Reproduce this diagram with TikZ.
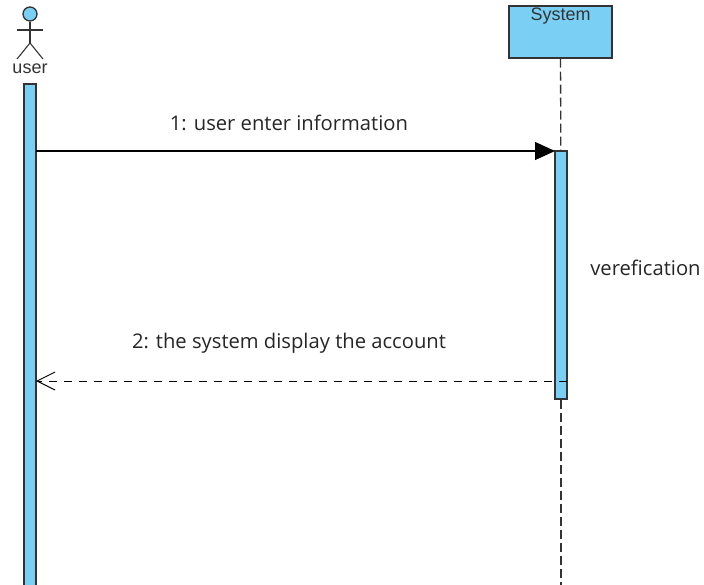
\documentclass[tikz,border=0pt]{standalone}
\usepackage{fontspec}
\setmainfont{Open Sans}
\newfontfamily\smallfont{Liberation Sans}
\usetikzlibrary{arrows.meta}
\definecolor{lifeblue}{HTML}{7ACFF5}
\definecolor{lifeline}{HTML}{333333}
\begin{document}
\begin{tikzpicture}[x=1pt,y=-1pt]
		\tikzstyle{actorhead}=[circle,line width=1.3pt,draw=lifeline,fill=lifeblue,inner sep=0pt,minimum size=14pt]
		\tikzstyle{limb}=[draw=lifeline,line width=1.1pt]
		\tikzstyle{bar}=[rectangle,line width=1.3pt,draw=lifeline,fill=lifeblue,inner sep=0pt,minimum width=12pt]
		\tikzstyle{object}=[rectangle,line width=1.3pt,draw=lifeline,fill=lifeblue,inner sep=0pt,minimum width=103pt,minimum height=52pt]
		\tikzstyle{lifedash}=[draw=lifeline,line width=1.3pt,dash pattern=on 9pt off 4pt]
		\tikzstyle{call}=[draw=black,line width=1.2pt,-{Triangle[length=20pt,width=18pt]}]
		\tikzstyle{reply}=[draw=black,line width=1pt,dash pattern=on 8pt off 7pt,-{Straight Barb[length=18pt,width=18pt]}]
		\tikzstyle{msg}=[font=\fontsize{20.2}{24}\selectfont,text=black!85,inner sep=0pt]
		\tikzstyle{tag}=[font=\smallfont\fontsize{18}{21}\selectfont,text=black!80,inner sep=0pt]
		\useasboundingbox (0,0) rectangle (704,585);
		\begin{scope}
			% user
			\node [actorhead] (head) at (30,14) {};
			\coordinate (neck) at (30,43);
			\coordinate (armL) at (17,30);
			\coordinate (armR) at (43,30);
			\coordinate (footL) at (17,59);
			\coordinate (footR) at (43,59);
			\path[limb] (head) -- (neck);
			\path[limb] (armL) -- (armR);
			\path[limb] (footL) -- (neck) -- (footR);
			\node [tag] (user) at (30,69) {user};
			\node [bar,minimum height=503pt] (userbar) at (30,335.5) {};
			% system
			\node [object] (system) at (560.5,32) {};
			\node [tag] (systemlabel) at (560.5,16) {System};
			\node [bar,minimum height=248pt] (sysbar) at (561,275) {};
			\coordinate (lifeend) at (561,585);
			\path[lifedash] (system) -- (sysbar);
			\path[lifedash] (sysbar) -- (lifeend);
			% messages
			\coordinate (callstart) at (36,151);
			\coordinate (callend) at (555,151);
			\coordinate (replystart) at (567,381);
			\coordinate (replyend) at (36,381);
			\path[call] (callstart) -- (callend);
			\path[reply] (replystart) -- (replyend);
			\node [msg] (msgone) at (289,123) {1: user enter information};
			\node [msg] (msgtwo) at (289,343) {2: the system display the account};
			\node [msg] (verify) at (645.5,268) {verefication};
		\end{scope}
\end{tikzpicture}
\end{document}
